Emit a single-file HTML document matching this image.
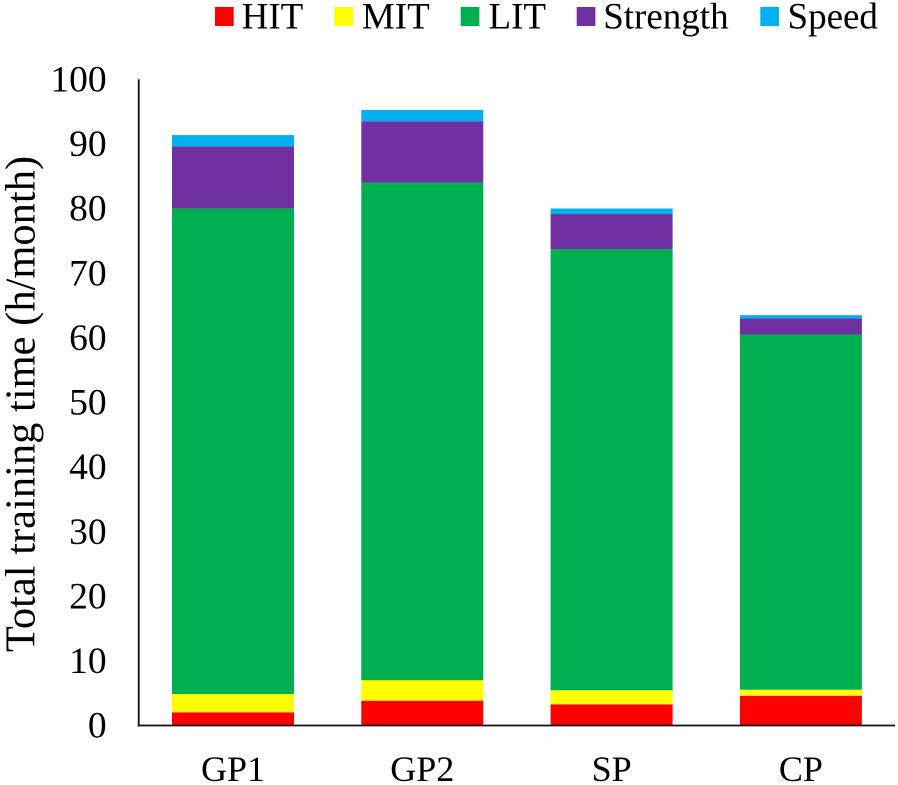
<!DOCTYPE html>
<html>
<head>
<meta charset="utf-8">
<style>
html,body{margin:0;padding:0;background:#fff;}
svg{display:block;font-family:"Liberation Serif",serif;fill:#000;}
</style>
</head>
<body>
<svg id="chart" width="898" height="785" viewBox="0 0 898 785" xmlns="http://www.w3.org/2000/svg"></svg>
<script>
const categories = ["GP1", "GP2", "SP", "CP"];
const seriesNames = ["HIT", "MIT", "LIT", "Strength", "Speed"];
const hitValues = [2.04, 3.84, 3.28, 4.61];
const mitValues = [2.83, 3.16, 2.17, 0.93];
const litValues = [75.15, 77.0, 68.25, 54.96];
const strengthValues = [9.6, 9.5, 5.45, 2.5];
const speedValues = [1.75, 1.75, 0.85, 0.5];
const seriesColors = ["#ff0000", "#ffff00", "#00b050", "#7030a0", "#00b0f0"];
const yTickLabels = [0, 10, 20, 30, 40, 50, 60, 70, 80, 90, 100];

const allSeries = [hitValues, mitValues, litValues, strengthValues, speedValues];
const svg = document.getElementById('chart');
const NS = 'http://www.w3.org/2000/svg';
const plotLeft = 138.7, plotRight = 895, plotBottom = 725.5, plotTop = 79.3;
const yMax = 100;
function yScale(v){ return plotBottom - (v / yMax) * (plotBottom - plotTop); }
function xCenter(i){ return 233 + i * 189.3; }
const barWidth = 122;
function make(tag, attrs, parent){
  const el = document.createElementNS(NS, tag);
  for (const k in attrs) el.setAttribute(k, attrs[k]);
  (parent || svg).appendChild(el);
  return el;
}

// y axis tick labels
yTickLabels.forEach(function(t){
  const el = make('text', {x: 106.6, y: yScale(t) + 12.2, 'text-anchor': 'end', 'font-size': 37.5});
  
  
  el.textContent = t;
});

// y axis title
const yTitle = make('text', {transform: 'translate(34.3,404) rotate(-90)', 'text-anchor': 'middle', 'font-size': 42.5});


yTitle.textContent = 'Total training time (h/month)';

// bars
categories.forEach(function(cat, i){
  let acc = 0;
  allSeries.forEach(function(vals, s){
    const y0 = yScale(acc);
    const y1 = yScale(acc + vals[i]);
    const r = make('rect', {x: xCenter(i) - barWidth / 2, y: y1, width: barWidth, height: y0 - y1, fill: seriesColors[s]});
    
    
    acc += vals[i];
  });
  const lab = make('text', {x: xCenter(i), y: 781, 'text-anchor': 'middle', 'font-size': 36});
  
  
  lab.textContent = cat;
});

// axis lines
const yAxis = make('line', {x1: plotLeft, x2: plotLeft, y1: plotTop, y2: plotBottom + 1, stroke: '#111', 'stroke-width': 1.8});


const xAxis = make('line', {x1: plotLeft - 0.9, x2: plotRight, y1: plotBottom, y2: plotBottom, stroke: '#111', 'stroke-width': 1.8});



// legend
const legendSwatchX = [215, 334.3, 460.7, 576.7, 760.3];
const legendTextX = [241.6, 361.9, 488.5, 603.2, 787.5];
seriesNames.forEach(function(name, i){
  const sw = make('rect', {x: legendSwatchX[i], y: 7, width: 18.7, height: 19, fill: seriesColors[i]});
  
  
  const t = make('text', {x: legendTextX[i], y: 28.3, 'font-size': 37});
  
  
  t.textContent = name;
});
</script>
</body>
</html>
